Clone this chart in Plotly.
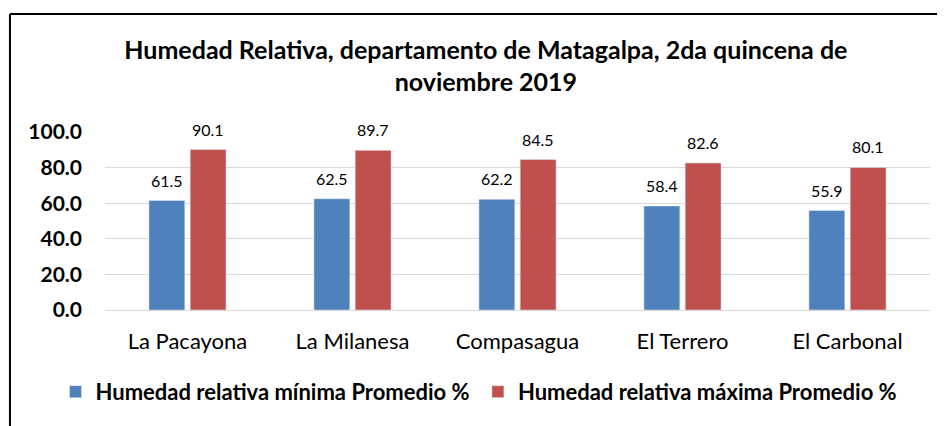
import plotly.graph_objects as go

# estaciones y valores de humedad relativa (%)
estaciones = ["La Pacayona", "La Milanesa", "Compasagua", "El Terrero", "El Carbonal"]
hr_minima = [61.5, 62.5, 62.2, 58.4, 55.9]
hr_maxima = [90.1, 89.7, 84.5, 82.6, 80.1]
y_ticks = [0, 20, 40, 60, 80, 100]

fuente = "Lato"
azul = "#4F81BD"
rojo = "#C0504D"

fig = go.Figure()
fig.add_trace(go.Bar(x=estaciones, y=hr_minima, name="Humedad relativa mínima Promedio %",
                     marker_color=azul, legend="legend"))
fig.add_trace(go.Bar(x=estaciones, y=hr_maxima, name="Humedad relativa máxima Promedio %",
                     marker_color=rojo, legend="legend2"))

# etiquetas de datos encima de cada barra
for serie, desplaz in [(hr_minima, -20.6), (hr_maxima, 20.6)]:
    for est, val in zip(estaciones, serie):
        fig.add_annotation(x=est, y=val, text=f"{val:.1f}", showarrow=False,
                           xshift=desplaz, yshift=9, yanchor="bottom",
                           font=dict(family=fuente, size=16, color="#000000"))

# marco del grafico (solo lados visibles)
fig.add_shape(type="line", xref="paper", yref="paper", x0=-0.1152, x1=-0.1152,
              y0=1.663, y1=-0.70, line=dict(color="#000000", width=2))
fig.add_shape(type="line", xref="paper", yref="paper", x0=-0.1152, x1=1.05,
              y0=1.663, y1=1.663, line=dict(color="#000000", width=2))

fuente_ley = dict(family=fuente, size=22, color="#000000", weight="bold")

# la pagina tiene 8 px de margen, por eso la figura es algo menor que la ventana
fig.update_layout(
    width=937, height=418,
    margin=dict(l=97, r=15, t=124, b=116, autoexpand=False),
    paper_bgcolor="white", plot_bgcolor="white",
    font=dict(family=fuente, color="#000000"),
    title=dict(text="<b>Humedad Relativa, departamento de Matagalpa, 2da quincena de<br>noviembre 2019</b>",
               x=0.51, xanchor="center", y=0.878, yanchor="top",
               font=dict(family=fuente, size=25, color="#000000")),
    barmode="group", bargap=0.5, bargroupgap=0.13,
    showlegend=True,
    legend=dict(orientation="h", x=-0.06, xanchor="left", y=-0.46, yanchor="middle",
                font=fuente_ley, itemclick=False),
    legend2=dict(orientation="h", x=0.452, xanchor="left", y=-0.46, yanchor="middle",
                 font=fuente_ley, itemclick=False),
)
fig.update_yaxes(range=[0, 100], tickvals=y_ticks, tickformat=".1f",
                 showgrid=True, gridcolor="#D9D9D9", gridwidth=1,
                 zeroline=True, zerolinecolor="#D9D9D9", zerolinewidth=1,
                 showline=False, ticks="", ticklabelstandoff=22,
                 tickfont=dict(family=fuente, size=21, color="#000000", weight="bold"))
fig.update_xaxes(showline=False, ticks="", ticklabelstandoff=16,
                 tickfont=dict(family=fuente, size=22, color="#000000"))

fig.write_html("out.html")
